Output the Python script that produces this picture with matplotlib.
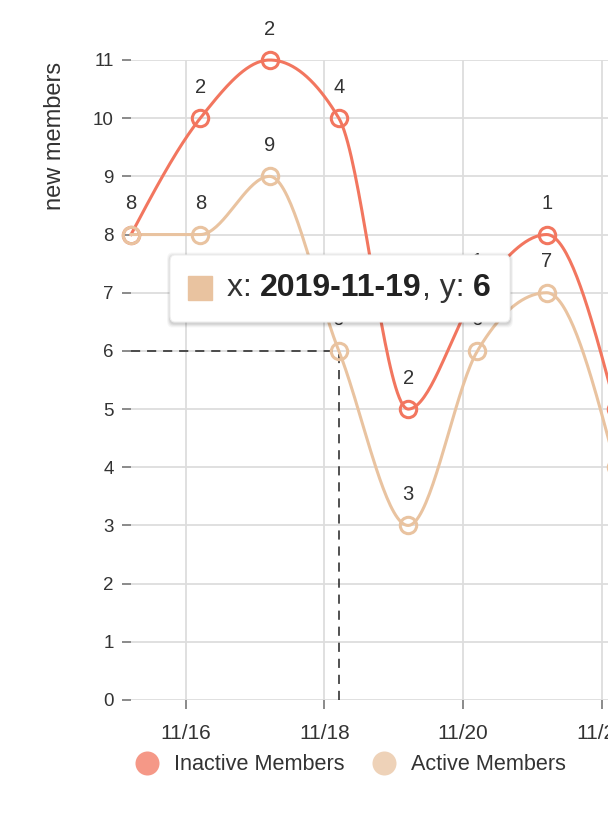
import numpy as np
import pandas as pd
import matplotlib
matplotlib.use("Agg")
import matplotlib.pyplot as plt
import matplotlib.dates as mdates
from matplotlib.lines import Line2D
from matplotlib.patches import Rectangle, FancyBboxPatch
from matplotlib.offsetbox import TextArea, DrawingArea, HPacker, AnnotationBbox

plt.rcParams['font.family'] = ['Liberation Sans', 'DejaVu Sans']

# Data
dates = ['2019-11-16', '2019-11-17', '2019-11-18', '2019-11-19',
         '2019-11-20', '2019-11-21', '2019-11-22', '2019-11-23']
inactive = [8, 10, 11, 10, 5, 7, 8, 5]
active = [8, 8, 9, 6, 3, 6, 7, 4]
inactive_labels = ['', '2', '2', '4', '2', '1', '1', '1']
active_labels = ['8', '8', '9', '6', '3', '6', '7', '4']
series_names = ['Inactive Members', 'Active Members']
tooltip_idx = 3  # hovered point of Active Members

red = '#f2765f'
tan = '#e9c3a0'

# dates are shown in local time (19h behind the stored day)
x = pd.to_datetime(dates) - pd.Timedelta(hours=19)
xn = mdates.date2num(x)


def monotone_x(xs, ys, n=40):
    # d3 curveMonotoneX style interpolation, only for drawing the line
    xs = np.asarray(xs, float)
    ys = np.asarray(ys, float)
    h = np.diff(xs)
    s = np.diff(ys) / h
    t = np.zeros(len(xs))
    for i in range(1, len(xs) - 1):
        p = (s[i - 1] * h[i] + s[i] * h[i - 1]) / (h[i - 1] + h[i])
        t[i] = (np.sign(s[i - 1]) + np.sign(s[i])) * min(abs(s[i - 1]), abs(s[i]), 0.5 * abs(p))
    t[0] = (3 * s[0] - t[1]) / 2
    t[-1] = (3 * s[-1] - t[-2]) / 2
    px, py = [], []
    for i in range(len(xs) - 1):
        u = np.linspace(0, 1, n)
        dx = h[i]
        x0, x3 = xs[i], xs[i + 1]
        y0, y3 = ys[i], ys[i + 1]
        y1 = y0 + dx * t[i] / 3
        y2 = y3 - dx * t[i + 1] / 3
        x1 = x0 + dx / 3
        x2 = x3 - dx / 3
        bx = (1 - u)**3 * x0 + 3 * (1 - u)**2 * u * x1 + 3 * (1 - u) * u**2 * x2 + u**3 * x3
        by = (1 - u)**3 * y0 + 3 * (1 - u)**2 * u * y1 + 3 * (1 - u) * u**2 * y2 + u**3 * y3
        px.extend(bx)
        py.extend(by)
    return np.array(px), np.array(py)


fig = plt.figure(figsize=(6.08, 8.16), dpi=100)
W, H = 608, 816
ax = fig.add_axes([131 / W, 1 - 700 / H, (616 - 131) / W, (700 - 60) / H])

for vals, labels, col in [(inactive, inactive_labels, red), (active, active_labels, tan)]:
    cx, cy = monotone_x(xn, vals)
    ax.plot(cx, cy, color=col, lw=2.2, zorder=3, clip_on=False)
    ax.plot(xn, vals, 'o', ms=11.8, mfc='none', mec=col, mew=2.2, zorder=4, clip_on=False)
    for xi, yi, lab in zip(xn, vals, labels):
        ax.annotate(lab, (xi, yi), xytext=(0, 22.3), textcoords='offset points',
                    ha='center', va='center', fontsize=14.5, color='#333333', zorder=5,
                    annotation_clip=False)

# crosshair to the hovered point
ax.plot([xn[0], xn[tooltip_idx]], [active[tooltip_idx]] * 2, color='#222222',
        lw=1.1, dashes=(6, 4.5), zorder=2, clip_on=False)
ax.plot([xn[tooltip_idx]] * 2, [0, active[tooltip_idx]], color='#222222',
        lw=1.1, dashes=(6, 4.5), zorder=2, clip_on=False)

ax.set_xlim(xn[0], xn[-1])
ax.set_ylim(0, 11)
ax.set_yticks(range(0, 12))
ax.xaxis.set_major_locator(mdates.DayLocator(interval=2))
ax.xaxis.set_major_formatter(mdates.DateFormatter('%m/%d'))
ax.grid(True, color='#dddddd', lw=1.3)
ax.set_axisbelow(True)
for sp in ax.spines.values():
    sp.set_visible(False)
ax.tick_params(axis='both', colors='#777777', width=1.2, length=6.5,
               labelcolor='#333333')
ax.tick_params(axis='x', pad=11, labelsize=15)
ax.tick_params(axis='y', pad=6, labelsize=13.5)
ax.set_ylabel('new members', fontsize=17, color='#333333')
ax.yaxis.set_label_coords(-(131 - 66) / 485, (700 - 136) / 640)

# legend
handles = [Line2D([], [], ls='none', marker='o', ms=17.3, mfc=c, mec='none', alpha=0.75)
           for c in (red, tan)]
fig.legend(handles, series_names, loc='center', bbox_to_anchor=(351 / W, 1 - 765 / H),
           ncol=2, frameon=False, fontsize=15.6, handletextpad=0.75, columnspacing=1.35,
           labelcolor='#333333', handlelength=1.0)

# tooltip box with a soft shadow
for k, a in [(4, 0.03), (3, 0.04), (2, 0.05), (1, 0.06)]:
    fig.add_artist(FancyBboxPatch((170 / W, (H - 322 - 1.5) / H), 340 / W, 67 / H,
                                  boxstyle='round,pad=%f,rounding_size=0.008' % (k / H),
                                  transform=fig.transFigure, fc='black', ec='none',
                                  alpha=a, zorder=9))
fig.add_artist(FancyBboxPatch((170 / W, (H - 322) / H), 340 / W, 67 / H,
                              boxstyle='round,pad=0,rounding_size=0.008',
                              transform=fig.transFigure, fc='white', ec='#eeeeee',
                              lw=0.8, zorder=9.5))
sq = DrawingArea(17.3, 17.3, 0, 0)
sq.add_artist(Rectangle((0, 0), 17.3, 17.3, color=tan))
texts = HPacker(children=[
    TextArea('x: ', textprops=dict(fontsize=23, color='#333333')),
    TextArea(dates[tooltip_idx], textprops=dict(fontsize=23, color='#222222', weight='bold')),
    TextArea(', y: ', textprops=dict(fontsize=23, color='#333333')),
    TextArea(str(active[tooltip_idx]), textprops=dict(fontsize=23, color='#222222', weight='bold'))],
    align='baseline', pad=0, sep=0)
box = HPacker(children=[sq, texts], align='center', pad=0, sep=10.5)
tip = AnnotationBbox(box, (188, H - 288), xycoords='figure pixels', box_alignment=(0, 0.5),
                     frameon=False, pad=0)
tip.set_zorder(10)
fig.add_artist(tip)

fig.savefig('out.png', dpi=100)
